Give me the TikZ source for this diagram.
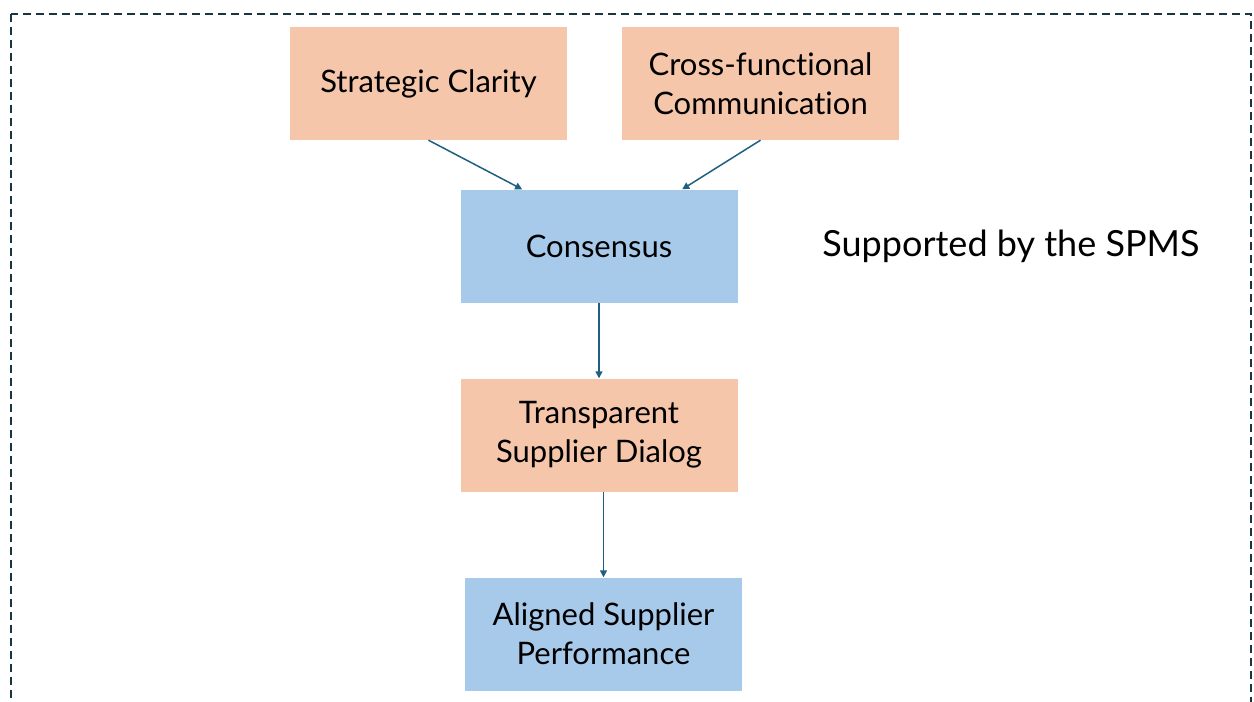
\documentclass[tikz,border=0pt]{standalone}
\usepackage{fontspec}
\setmainfont{Lato}[Ligatures=NoCommon]
\usetikzlibrary{arrows.meta,calc}
\definecolor{peach}{HTML}{F5C6AA}
\definecolor{skyblue}{HTML}{A7CAEB}
\definecolor{linkteal}{HTML}{1F5F80}
\definecolor{frameink}{HTML}{1B3442}
\begin{document}
\begin{tikzpicture}[x=1pt,y=-1pt,
  box/.style={minimum width=277pt,minimum height=113pt,inner sep=0pt,align=center,
    font=\fontsize{31}{39}\selectfont,text=black},
  warm/.style={box,fill=peach},
  cool/.style={box,fill=skyblue},
  link/.style={draw=linkteal,line width=1.5pt,-{Triangle[width=7pt,length=7pt]}}]
\useasboundingbox (0,0) rectangle (1254,702);
\fill[white] (0,0) rectangle (1254,702);
\draw[frameink,line width=1.8pt,dash pattern=on 8pt off 5pt] (11,14) rectangle (1251,760);
\node[warm] (clarity) at (428.5,83.5) {Strategic Clarity};
\node[warm] (comm) at (760.5,83.5) {Cross-functional\\Communication};
\node[cool] (consensus) at (599,246) {Consensus};
\node[warm] (dialog) at (599,435) {Transparent\\Supplier Dialog};
\node[cool] (aligned) at (603.5,634) {Aligned Supplier\\Performance};
\node[font=\fontsize{36}{40}\selectfont] (spms) at (1011,246) {Supported by the SPMS};
\draw[link] (clarity.south) -- ($(consensus.north west)!0.223!(consensus.north east)$);
\draw[link] (comm.south) -- ($(consensus.north west)!0.8!(consensus.north east)$);
\draw[link] (consensus.south) -- (dialog.north);
\draw[link] (dialog.south -| aligned.north) -- (aligned.north);
\end{tikzpicture}
\end{document}
